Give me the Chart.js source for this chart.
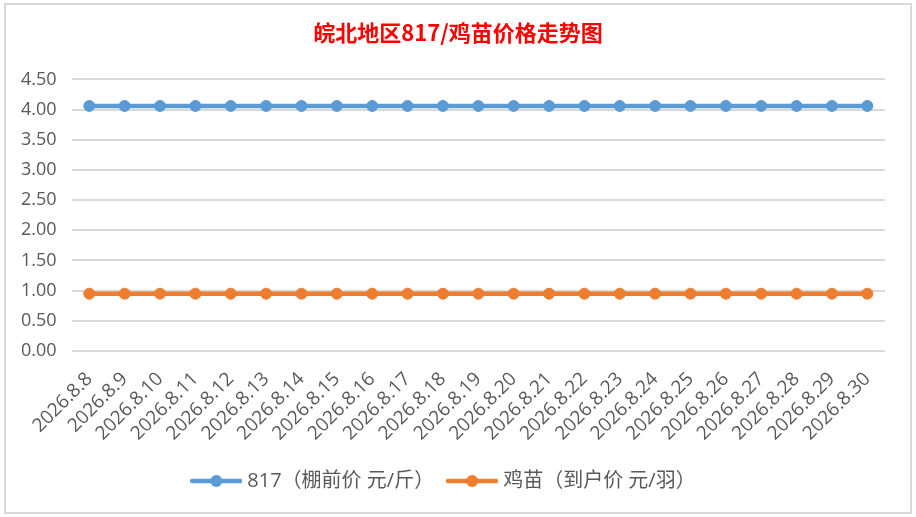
<!DOCTYPE html>
<html>
<head>
<meta charset="utf-8">
<script src="https://cdn.jsdelivr.net/npm/chart.js@4"></script>
<style>
  html, body { margin: 0; padding: 0; background: #fff; }
  #box {
    position: absolute; left: 4px; top: 3px;
    width: 904px; height: 507px;
    border: 2px solid #d9d9d9; background: #fff;
  }
</style>
</head>
<body>
<div id="box"><canvas id="myChart"></canvas></div>
<script>
const dates = ['2026.8.8', '2026.8.9', '2026.8.10', '2026.8.11', '2026.8.12', '2026.8.13',
  '2026.8.14', '2026.8.15', '2026.8.16', '2026.8.17', '2026.8.18', '2026.8.19', '2026.8.20',
  '2026.8.21', '2026.8.22', '2026.8.23', '2026.8.24', '2026.8.25', '2026.8.26', '2026.8.27',
  '2026.8.28', '2026.8.29', '2026.8.30']
const price817 = [4.06, 4.06, 4.06, 4.06, 4.06, 4.06, 4.06, 4.06, 4.06, 4.06, 4.06, 4.06,
  4.06, 4.06, 4.06, 4.06, 4.06, 4.06, 4.06, 4.06, 4.06, 4.06, 4.06]
const chickPrice = [0.95, 0.95, 0.95, 0.95, 0.95, 0.95, 0.95, 0.95, 0.95, 0.95, 0.95, 0.95,
  0.95, 0.95, 0.95, 0.95, 0.95, 0.95, 0.95, 0.95, 0.95, 0.95, 0.95]

const fontFam = '"Open Sans", "Noto Sans CJK SC", sans-serif'

// legend marker: line with a dot in the middle (a bit wider than its box so the text sits close)
function legendMarker(color) {
  let c = document.createElement('canvas')
  c.width = 52
  c.height = 14
  let g = c.getContext('2d')
  g.strokeStyle = color
  g.lineWidth = 4.5
  g.lineCap = 'round'
  g.beginPath()
  g.moveTo(2, 7)
  g.lineTo(50, 7)
  g.stroke()
  g.fillStyle = color
  g.beginPath()
  g.arc(26, 7, 6, 0, Math.PI * 2)
  g.fill()
  return c
}

// title is centred on the whole chart box, not on the padded area
const centerTitle = {
  id: 'centerTitle',
  afterLayout(chart) {
    if (chart.titleBlock) {
      chart.titleBlock.left = 0
      chart.titleBlock.right = chart.width
    }
  }
}

let ctx = document.getElementById('myChart').getContext('2d')

let myChart = new Chart(ctx, {
  type: 'line',
  data: {
    labels: dates,
    datasets: [{
      label: '817（棚前价 元/斤）',
      data: price817,
      borderColor: '#5b9bd5',
      backgroundColor: '#5b9bd5',
      borderWidth: 4.5,
      pointRadius: 5.5,
      pointBorderWidth: 1,
      pointHoverRadius: 5.5,
      tension: 0
    }, {
      label: '鸡苗（到户价 元/羽）',
      data: chickPrice,
      borderColor: '#ed7d31',
      backgroundColor: '#ed7d31',
      borderWidth: 4.5,
      pointRadius: 5.5,
      pointBorderWidth: 1,
      pointHoverRadius: 5.5,
      tension: 0
    }]
  },
  plugins: [centerTitle],
  options: {
    responsive: true,
    maintainAspectRatio: false,
    animation: false,
    layout: { padding: { left: 0, right: 25, top: 0, bottom: 11 } },
    plugins: {
      title: {
        display: true,
        text: '皖北地区817/鸡苗价格走势图',
        color: '#ff0000',
        font: { family: '"Noto Sans CJK SC", sans-serif', size: 22, weight: 'bold' },
        padding: { top: 14, bottom: 34 }
      },
      legend: {
        position: 'bottom',
        labels: {
          color: '#595959',
          font: { family: fontFam, size: 20 },
          usePointStyle: true,
          pointStyleWidth: 42,
          boxHeight: 14,
          padding: 17,
          generateLabels(chart) {
            return chart.data.datasets.map((ds, i) => ({
              text: ds.label,
              pointStyle: legendMarker(ds.borderColor),
              strokeStyle: ds.borderColor,
              fillStyle: ds.borderColor,
              lineWidth: 0,
              datasetIndex: i,
              fontColor: '#595959'
            }))
          }
        }
      },
      tooltip: { enabled: false }
    },
    scales: {
      x: {
        offset: true,
        grid: { display: false },
        border: { display: false },
        ticks: {
          color: '#595959',
          font: { family: fontFam, size: 19 },
          maxRotation: 45,
          minRotation: 45,
          autoSkip: false,
          padding: 9
        }
      },
      y: {
        min: 0,
        max: 4.5,
        border: { display: false },
        grid: { color: '#d9d9d9', lineWidth: 2, drawTicks: false },
        ticks: {
          stepSize: 0.5,
          color: '#595959',
          font: { family: fontFam, size: 18 },
          padding: 15,
          callback: v => v.toFixed(2)
        }
      }
    }
  }
})
</script>
</body>
</html>
